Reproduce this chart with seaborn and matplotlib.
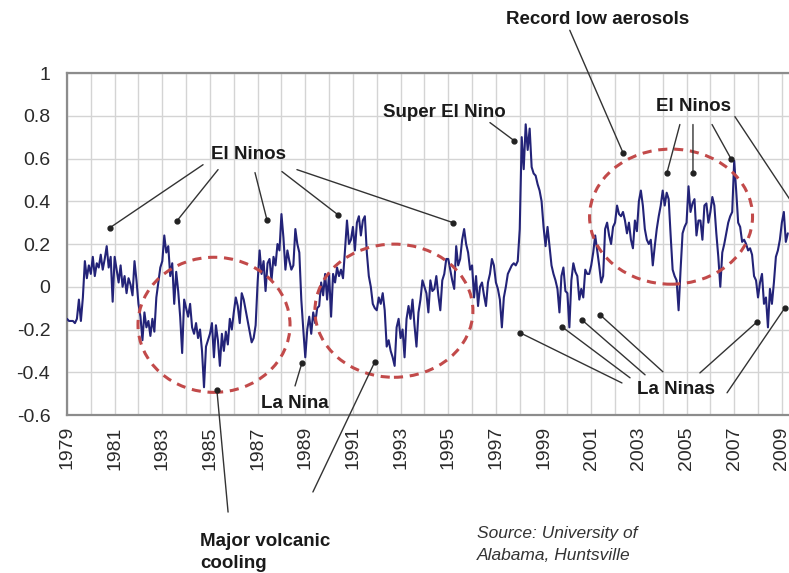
import numpy as np
import pandas as pd
import seaborn as sns
import matplotlib.pyplot as plt
from matplotlib.patches import Ellipse

# monthly temperature anomaly (deg C), one list per year
y1979 = [-0.15, -0.16, -0.16, -0.16, -0.17, -0.15, -0.06, -0.16, -0.05, 0.12, 0.04, 0.10]
y1980 = [0.06, 0.14, 0.05, 0.11, 0.09, 0.15, 0.08, 0.13, 0.19, 0.09, 0.14, -0.07]
y1981 = [0.14, 0.08, 0.02, 0.10, 0.00, 0.05, -0.03, 0.04, 0.01, -0.04, 0.12, 0.03]
y1982 = [-0.08, -0.14, -0.25, -0.12, -0.19, -0.16, -0.23, -0.15, -0.21, -0.05, 0.02, 0.09]
y1983 = [0.12, 0.24, 0.16, 0.19, 0.05, 0.11, -0.08, 0.07, -0.02, -0.14, -0.31, -0.06]
y1984 = [-0.10, -0.14, -0.08, -0.19, -0.22, -0.17, -0.24, -0.20, -0.30, -0.47, -0.28, -0.25]
y1985 = [-0.22, -0.17, -0.33, -0.18, -0.25, -0.37, -0.22, -0.30, -0.21, -0.27, -0.15, -0.20]
y1986 = [-0.12, -0.05, -0.09, -0.17, -0.03, -0.06, -0.11, -0.16, -0.21, -0.26, -0.24, -0.18]
y1987 = [0.02, 0.17, 0.06, 0.12, -0.02, 0.11, 0.13, 0.03, 0.14, 0.10, 0.20, 0.17]
y1988 = [0.34, 0.23, 0.08, 0.17, 0.12, 0.08, 0.10, 0.27, 0.20, 0.16, -0.06, -0.20]
y1989 = [-0.33, -0.20, -0.14, -0.22, -0.12, -0.17, -0.10, -0.09, 0.02, -0.04, 0.06, -0.06]
y1990 = [0.06, -0.14, 0.06, 0.02, 0.09, 0.05, 0.08, 0.04, 0.17, 0.31, 0.20, 0.22]
y1991 = [0.28, 0.17, 0.30, 0.33, 0.24, 0.31, 0.33, 0.16, 0.05, 0.00, -0.08, -0.10]
y1992 = [-0.11, -0.05, -0.08, -0.03, -0.11, -0.28, -0.25, -0.30, -0.33, -0.37, -0.19, -0.15]
y1993 = [-0.24, -0.20, -0.33, -0.15, -0.09, -0.15, -0.06, -0.18, -0.28, -0.12, -0.06, 0.03]
y1994 = [0.00, -0.03, -0.12, 0.03, -0.02, -0.01, 0.05, -0.04, -0.11, 0.03, 0.06, 0.13]
y1995 = [0.13, 0.08, 0.03, -0.01, 0.19, 0.10, 0.13, 0.22, 0.27, 0.20, 0.16, 0.08]
y1996 = [0.10, -0.05, 0.05, -0.09, 0.00, 0.02, -0.04, -0.09, 0.02, 0.06, 0.13, 0.10]
y1997 = [0.02, -0.01, -0.06, -0.19, -0.05, 0.00, 0.06, 0.08, 0.10, 0.11, 0.10, 0.12]
y1998 = [0.27, 0.70, 0.55, 0.76, 0.64, 0.74, 0.56, 0.53, 0.52, 0.48, 0.45, 0.40]
y1999 = [0.28, 0.19, 0.28, 0.19, 0.10, 0.06, 0.03, -0.01, -0.12, 0.05, 0.09, -0.02]
y2000 = [-0.03, -0.19, 0.03, 0.11, 0.07, 0.05, -0.06, -0.01, -0.05, 0.08, 0.06, 0.06]
y2001 = [0.10, 0.16, 0.24, 0.17, 0.10, 0.02, 0.05, 0.27, 0.30, 0.24, 0.20, 0.28]
y2002 = [0.30, 0.38, 0.34, 0.33, 0.35, 0.31, 0.25, 0.30, 0.22, 0.18, 0.31, 0.26]
y2003 = [0.40, 0.45, 0.38, 0.27, 0.22, 0.20, 0.22, 0.10, 0.19, 0.27, 0.33, 0.38]
y2004 = [0.45, 0.38, 0.44, 0.41, 0.24, 0.08, 0.05, 0.03, -0.11, 0.08, 0.25, 0.28]
y2005 = [0.30, 0.47, 0.35, 0.39, 0.41, 0.24, 0.31, 0.31, 0.22, 0.38, 0.39, 0.30]
y2006 = [0.35, 0.42, 0.38, 0.25, 0.14, 0.00, 0.16, 0.20, 0.25, 0.30, 0.33, 0.35]
y2007 = [0.59, 0.45, 0.30, 0.28, 0.21, 0.22, 0.20, 0.17, 0.18, 0.15, 0.05, 0.03]
y2008 = [-0.05, 0.02, 0.06, -0.08, -0.05, -0.19, -0.01, -0.08, 0.02, 0.14, 0.17, 0.22]
y2009 = [0.30, 0.35, 0.21, 0.25]

yearly = [y1979, y1980, y1981, y1982, y1983, y1984, y1985, y1986, y1987, y1988,
          y1989, y1990, y1991, y1992, y1993, y1994, y1995, y1996, y1997, y1998,
          y1999, y2000, y2001, y2002, y2003, y2004, y2005, y2006, y2007, y2008,
          y2009]

rows = []
for i, vals in enumerate(yearly):
    for m, v in enumerate(vals):
        rows.append({"year": 1979 + i + m / 12, "anomaly": v})
df = pd.DataFrame(rows)

tick_years = list(range(1979, 2010))
ytick_vals = [-0.6, -0.4, -0.2, 0, 0.2, 0.4, 0.6, 0.8, 1]
ytick_text = ["-0.6", "-0.4", "-0.2", "0", "0.2", "0.4", "0.6", "0.8", "1"]

# annotation arrows: (start, target) in (year, anomaly)
el_ninos_left = [((1984.71, 0.571), (1980.80, 0.276)),
                 ((1985.34, 0.548), (1983.62, 0.309)),
                 ((1986.89, 0.534), (1987.39, 0.314)),
                 ((1988.02, 0.539), (1990.37, 0.337)),
                 ((1988.65, 0.548), (1995.20, 0.300))]
el_ninos_right = [((2004.72, 0.759), (2004.18, 0.534)),
                  ((2005.27, 0.759), (2005.27, 0.534)),
                  ((2006.07, 0.759), (2006.86, 0.600)),
                  ((2007.03, 0.796), (2009.76, 0.337))]
la_ninas = [((2002.29, -0.450), (1998.01, -0.215)),
            ((2002.63, -0.426), (1999.77, -0.187)),
            ((2003.26, -0.412), (2000.61, -0.155)),
            ((2004.01, -0.398), (2001.37, -0.131)),
            ((2005.56, -0.403), (2007.96, -0.164)),
            ((2006.70, -0.496), (2009.13, -0.098))]
other_arrows = [((1996.75, 0.768), (1997.76, 0.684)),    # super el nino
                ((2000.10, 1.200), (2002.33, 0.628)),    # aerosols
                ((1988.57, -0.464), (1988.86, -0.356)),  # la nina
                ((1985.76, -1.054), (1985.29, -0.482)),  # volcanic
                ((1989.32, -0.960), (1991.92, -0.351))]  # volcanic
# dashed circles: centre, width (yr), height
circles = [((1985.17, -0.178), 6.38, 0.632),
           ((1992.72, -0.112), 6.63, 0.623),
           ((2004.35, 0.328), 6.84, 0.632)]

sns.set_theme(style="white")
plt.rcParams["font.family"] = ["Liberation Sans", "DejaVu Sans"]

fig = plt.figure(figsize=(7.89, 5.73), dpi=100)
ax = fig.add_axes([0.0849, 0.2757, 0.9151, 0.5969])

sns.lineplot(data=df, x="year", y="anomaly", ax=ax, color="#232378",
             linewidth=1.5, zorder=3)

ax.set_xlim(1979, 2009.3)
ax.set_ylim(-0.6, 1.0)
ax.set_xticks(tick_years)
ax.set_xticklabels([str(t) if (t - 1979) % 2 == 0 else "" for t in tick_years],
                   rotation=90, fontsize=14, color="#2a2a2a")
ax.set_yticks(ytick_vals)
ax.set_yticklabels(ytick_text, fontsize=14, color="#2a2a2a")
ax.grid(True, color="#d4d4d4", linewidth=1.0, zorder=0)
ax.set_xlabel("")
ax.set_ylabel("")
ax.tick_params(axis="x", direction="out", length=6, width=1.2, color="#808080", pad=2)
ax.tick_params(axis="y", direction="out", length=5, width=1.2, color="#808080", pad=7)
for side in ["left", "bottom", "top"]:
    ax.spines[side].set_color("#8c8c8c")
    ax.spines[side].set_linewidth(1.6)
ax.spines["right"].set_visible(False)

for (cx, cy), w, h in circles:
    ax.add_patch(Ellipse((cx, cy), w, h, fill=False, edgecolor="#c24a4a",
                         linestyle=(0, (3, 2.2)), linewidth=2.2, zorder=4))

arrow_style = dict(arrowstyle="-", color="#333333", lw=1.0,
                   shrinkA=0, shrinkB=0)
for start, end in el_ninos_left + el_ninos_right + la_ninas + other_arrows:
    ax.annotate("", xy=end, xytext=start, arrowprops=arrow_style,
                annotation_clip=False, zorder=5)
    ax.plot(*end, marker="o", markersize=3.5, color="#222222", zorder=5,
            clip_on=False)

label_kw = dict(fontsize=13.5, fontweight="bold", color="#1a1a1a",
                ha="center", va="center", zorder=6, clip_on=False)
ax.text(1986.60, 0.618, "El Ninos", **label_kw)
ax.text(2005.31, 0.843, "El Ninos", **label_kw)
ax.text(1994.82, 0.815, "Super El Nino", **label_kw)
ax.text(2001.28, 1.251, "Record low aerosols", **label_kw)
ax.text(1988.57, -0.545, "La Nina", **label_kw)
ax.text(2004.56, -0.482, "La Ninas", **label_kw)
ax.text(1984.58, -1.150, "Major volcanic\ncooling", fontsize=13.5,
        fontweight="bold", color="#1a1a1a", ha="left", va="top",
        linespacing=1.45, clip_on=False)
ax.text(1996.21, -1.120, "Source: University of\nAlabama, Huntsville",
        fontsize=12.5, style="italic", color="#333333", ha="left", va="top",
        linespacing=1.55, clip_on=False)

fig.savefig("out.png", dpi=100)
